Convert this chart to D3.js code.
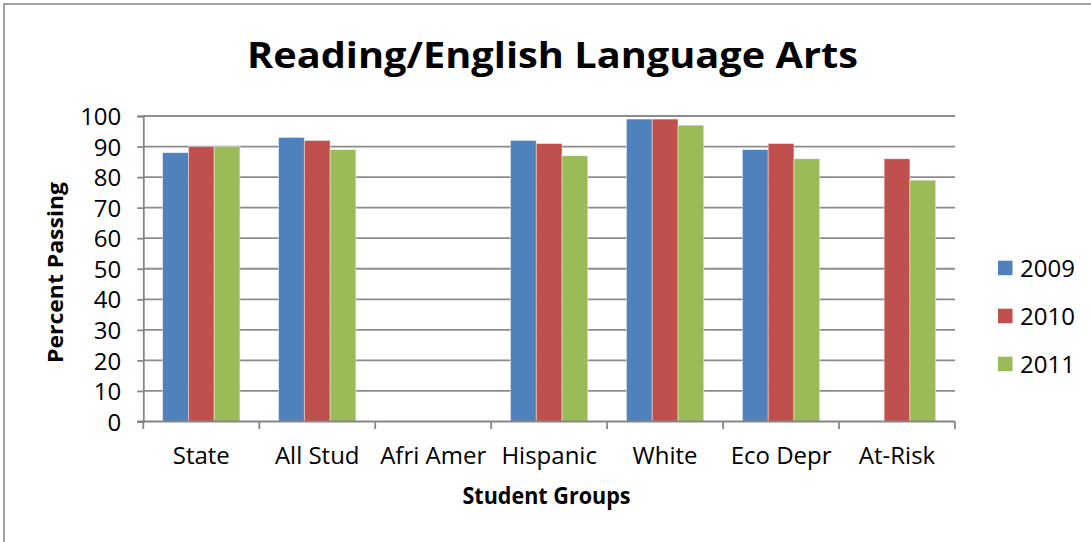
<!DOCTYPE html>
<html>
<head>
<meta charset="utf-8">
<script src="https://cdn.jsdelivr.net/npm/d3@7"></script>
<style>
  html, body { margin: 0; padding: 0; background: #fff; }
  svg { display: block; }
  text { font-family: "Open Sans", "DejaVu Sans", sans-serif; fill: #000; }
</style>
</head>
<body>
<svg id="chart" width="1091" height="542"></svg>
<script>
// Percent passing by student group, three school years
const categories = ["State", "All Stud", "Afri Amer", "Hispanic", "White", "Eco Depr", "At-Risk"];
const years = ["2009", "2010", "2011"];
const values2009 = [88, 93, null, 92, 99, 89, null];
const values2010 = [90, 92, null, 91, 99, 91, 86];
const values2011 = [90, 89, null, 87, 97, 86, 79];
const yTicks = [0, 10, 20, 30, 40, 50, 60, 70, 80, 90, 100];
const colors = ["#4F81BD", "#C0504D", "#9BBB59"];

const seriesValues = [values2009, values2010, values2011];

const svg = d3.select("#chart");
const plot = { left: 143.3, right: 955, top: 116, bottom: 421.5 };

// outer frame
svg.append("rect")
  .attr("x", 4).attr("y", 4)
  .attr("width", 1100).attr("height", 560)
  .attr("fill", "none")
  .attr("stroke", "#8a8a8a")
  .attr("stroke-width", 1.6);

const x0 = d3.scaleBand().domain(categories).range([plot.left, plot.right]).padding(0);
const bw = x0.bandwidth();
const x1 = d3.scaleBand().domain(years).range([bw / 6, bw * 5 / 6]).padding(0);
const y = d3.scaleLinear().domain([0, 100]).range([plot.bottom, plot.top]);

// horizontal gridlines
svg.append("g")
  .selectAll("line")
  .data(yTicks.filter(t => t > 0))
  .join("line")
  .attr("x1", plot.left).attr("x2", plot.right)
  .attr("y1", d => y(d)).attr("y2", d => y(d))
  .attr("stroke", "#8c8c8c")
  .attr("stroke-width", 1.8);

// bars
const rows = [];
categories.forEach((c, i) => {
  years.forEach((yr, j) => {
    const v = seriesValues[j][i];
    if (v !== null) rows.push({ c, yr, v, color: colors[j] });
  });
});

svg.append("g")
  .selectAll("rect")
  .data(rows)
  .join("rect")
  .attr("x", d => x0(d.c) + x1(d.yr))
  .attr("y", d => y(d.v))
  .attr("width", x1.bandwidth())
  .attr("height", d => y(0) - y(d.v))
  .attr("fill", d => d.color)
  .attr("stroke", "rgba(255,255,255,0.55)")
  .attr("stroke-width", 0.8);

// y axis
const yAxis = d3.axisLeft(y).tickValues(yTicks).tickSize(6).tickPadding(16);
const gy = svg.append("g")
  .attr("transform", `translate(${plot.left},0)`)
  .call(yAxis);
gy.select(".domain").attr("stroke", "#868686").attr("stroke-width", 1.8);
gy.selectAll(".tick line").attr("stroke", "#868686").attr("stroke-width", 1.8);
gy.selectAll(".tick text")
  .attr("font-size", 24)
  .attr("dy", "0.36em")
  .style("font-family", "'Open Sans', sans-serif");

// x axis: labels centred in each band, ticks on band boundaries
const xAxis = d3.axisBottom(x0).tickSize(0).tickPadding(25);
const gx = svg.append("g")
  .attr("transform", `translate(0,${plot.bottom})`)
  .call(xAxis);
gx.select(".domain").remove();
gx.selectAll(".tick text")
  .attr("font-size", 24)
  .attr("dy", "0.71em")
  .style("font-family", "'Open Sans', sans-serif");

svg.append("line")
  .attr("x1", plot.left - 6).attr("x2", plot.right)
  .attr("y1", plot.bottom).attr("y2", plot.bottom)
  .attr("stroke", "#868686").attr("stroke-width", 1.8);

const boundaries = categories.map(c => x0(c)).concat([plot.right]);
svg.append("g")
  .selectAll("line")
  .data(boundaries)
  .join("line")
  .attr("x1", d => d).attr("x2", d => d)
  .attr("y1", plot.bottom).attr("y2", plot.bottom + 7.5)
  .attr("stroke", "#868686").attr("stroke-width", 1.8);

// titles
svg.append("text")
  .attr("x", 552.5).attr("y", 68)
  .attr("text-anchor", "middle")
  .attr("font-size", 35)
  .attr("font-weight", "bold")
  .attr("textLength", 611)
  .attr("lengthAdjust", "spacingAndGlyphs")
  .text("Reading/English Language Arts");

svg.append("text")
  .attr("x", 546.5).attr("y", 504)
  .attr("text-anchor", "middle")
  .attr("font-size", 23)
  .attr("font-weight", "bold")
  .attr("textLength", 168)
  .attr("lengthAdjust", "spacingAndGlyphs")
  .text("Student Groups");

svg.append("text")
  .attr("transform", "translate(63,272.5) rotate(-90)")
  .attr("text-anchor", "middle")
  .attr("font-size", 21)
  .attr("font-weight", "bold")
  .attr("textLength", 181)
  .attr("lengthAdjust", "spacingAndGlyphs")
  .text("Percent Passing");

// legend
const legend = svg.append("g")
  .selectAll("g")
  .data(years)
  .join("g")
  .attr("transform", (d, i) => `translate(998,${260.7 + i * 48})`);
legend.append("rect")
  .attr("width", 14.5).attr("height", 14.5)
  .attr("fill", (d, i) => colors[i]);
legend.append("text")
  .attr("x", 22).attr("y", 16)
  .attr("font-size", 24)
  .text(d => d);
</script>
</body>
</html>
